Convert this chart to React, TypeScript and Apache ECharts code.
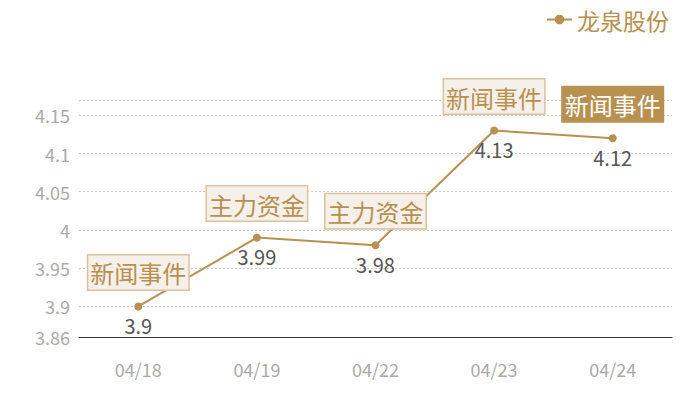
import { useEffect, useRef } from 'react'
import * as echarts from 'echarts'

const dates = ['04/18', '04/19', '04/22', '04/23', '04/24']
const prices = [3.9, 3.99, 3.98, 4.13, 4.12]
const events = ['新闻事件', '主力资金', '主力资金', '新闻事件', '新闻事件']
const activeEvent = 4
const seriesName = '龙泉股份'

const gold = '#b8904f'
const font = '"Noto Sans CJK SC", "Noto Sans", sans-serif'

export default function App() {
  const elRef = useRef<HTMLDivElement | null>(null)

  useEffect(() => {
    document.body.style.margin = '0'
    if (!elRef.current) return
    const chart = echarts.init(elRef.current, undefined, { renderer: 'svg' })

    const marks = dates.map((d, i) => {
      const active = i === activeEvent
      return {
        coord: [d, prices[i]],
        value: events[i],
        label: {
          color: active ? '#fff' : gold,
          backgroundColor: active ? gold : '#f5f0ea',
          borderColor: active ? gold : '#d9c29c',
        },
      }
    })

    chart.setOption({
      animation: false,
      textStyle: { fontFamily: font },
      grid: { left: 79, right: 28, top: 100, bottom: 63 },
      legend: {
        right: 26,
        top: 3,
        itemWidth: 25,
        itemHeight: 12,
        itemGap: 6,
        textStyle: { color: gold, fontSize: 23, fontFamily: font },
        data: [seriesName],
      },
      xAxis: {
        type: 'category',
        data: dates,
        axisLine: { lineStyle: { color: '#333', width: 1 } },
        axisTick: { show: false },
        axisLabel: { color: '#aaa', fontSize: 18, margin: 23, fontFamily: font },
      },
      yAxis: {
        type: 'value',
        min: 3.86,
        max: 4.17,
        axisLine: { show: false },
        axisTick: { show: false },
        axisLabel: { color: '#aaa', fontSize: 18, margin: 9, showMaxLabel: false, fontFamily: font },
        splitLine: { lineStyle: { color: '#c8c8c8', type: [2, 2] } },
      },
      series: [
        {
          name: seriesName,
          type: 'line',
          data: prices,
          symbol: 'circle',
          symbolSize: 8,
          itemStyle: { color: gold },
          lineStyle: { color: gold, width: 2 },
          label: {
            show: true,
            position: 'bottom',
            distance: 5,
            color: '#555',
            fontSize: 20,
            fontFamily: font,
          },
          markPoint: {
            symbol: 'circle',
            symbolSize: 0,
            label: {
              show: true,
              position: 'top',
              distance: 17,
              formatter: '{c}',
              fontSize: 24,
              fontFamily: font,
              borderWidth: 1.5,
              padding: [3, 2, 2, 2],
              lineHeight: 29,
            },
            data: marks,
          },
        },
      ],
    } as echarts.EChartsOption)

    return () => {
      chart.dispose()
    }
  }, [])

  return <div ref={elRef} style={{ width: 700, height: 400 }} />
}
